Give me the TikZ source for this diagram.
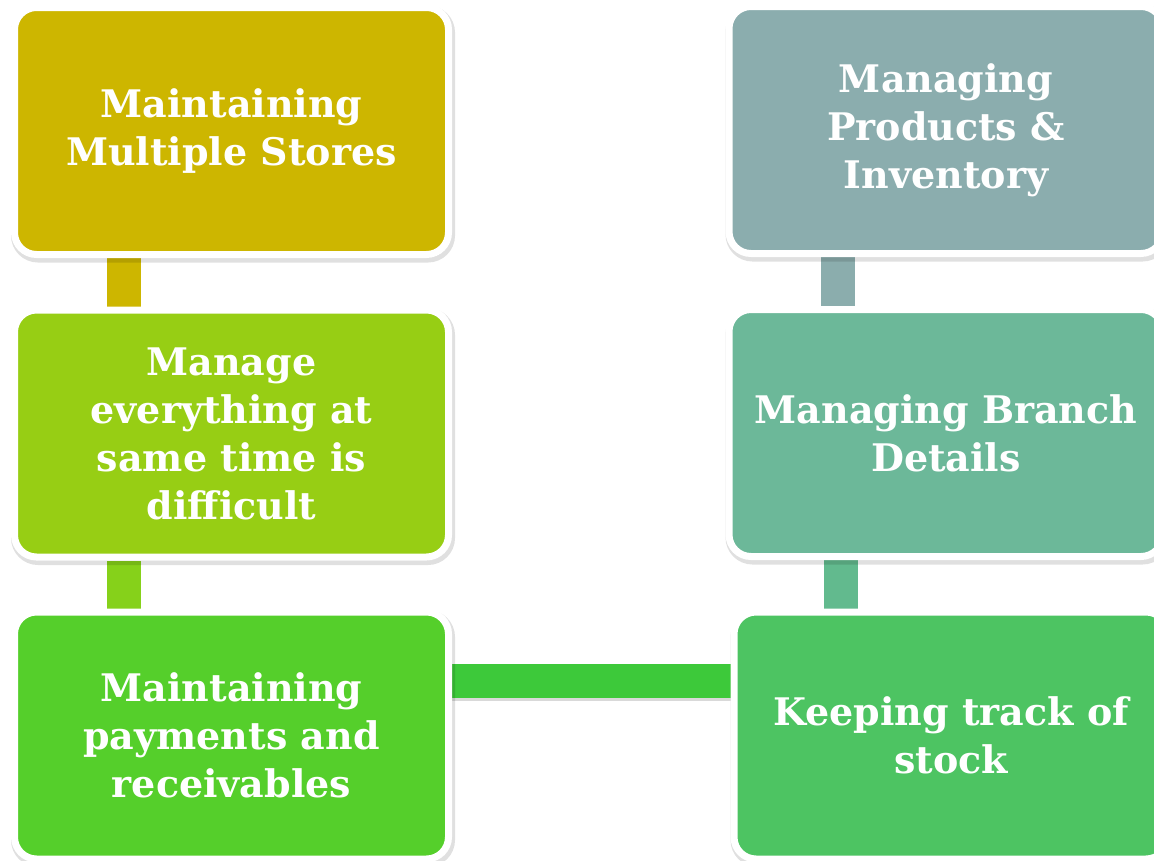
\documentclass[tikz,border=0pt]{standalone}
\usepackage{fontspec}
\setmainfont{DejaVu Serif}
\usetikzlibrary{calc,shadows}
\definecolor{cA}{HTML}{CDB600}
\definecolor{cB}{HTML}{97CE14}
\definecolor{cC}{HTML}{55CF2B}
\definecolor{cD}{HTML}{4DC462}
\definecolor{cE}{HTML}{6CB899}
\definecolor{cF}{HTML}{8BADAE}
\definecolor{lA}{HTML}{CDB600}
\definecolor{lB}{HTML}{86D11A}
\definecolor{lC}{HTML}{3DC93A}
\definecolor{lD}{HTML}{62BA8E}
\definecolor{lE}{HTML}{8BADAD}
\pgfdeclarelayer{bgl}
\pgfdeclarelayer{links}
\pgfsetlayers{bgl,links,main}
\begin{document}
\begin{tikzpicture}[x=1pt,y=-1pt,
  box/.style={rounded corners=22pt, draw=white, line width=7pt,
    minimum width=434pt, minimum height=247pt, align=center, text=white,
    font=\fontsize{38}{48}\selectfont\bfseries, inner sep=0pt,
    drop shadow={opacity=0.12, shadow xshift=1.5pt, shadow yshift=-3pt,
      draw=black, fill=black, line width=10pt}},
  link/.style={line width=34pt},
  linkshadow/.style={line width=34pt, black, opacity=0.15}]
\begin{pgfonlayer}{bgl}
\fill[white] (0,0) rectangle (1154,860);
\end{pgfonlayer}
\useasboundingbox (0,0) rectangle (1154,860);
\node[box, fill=cA] (b1) at (231.5,131) {Maintaining\\Multiple Stores};
\node[box, fill=cB] (b2) at (231.5,433.5) {Manage\\everything at\\same time is\\difficult};
\node[box, fill=cC] (b3) at (231.5,735.5) {Maintaining\\payments and\\receivables};
\node[box, fill=cF] (b6) at (946,130) {Managing\\Products \&\\Inventory};
\node[box, fill=cE] (b5) at (946,433) {Managing Branch\\Details};
\node[box, fill=cD] (b4) at (951,735.5) {Keeping track of\\stock};
\begin{pgfonlayer}{links}
\draw[linkshadow] ($(b3.east)+(0,-52)$) -- ($(b4.west)+(0,-52)$);
\draw[link, lA] ($(b1.south)+(-108,0)$) -- ($(b2.north)+(-108,0)$);
\draw[link, lB] ($(b2.south)+(-108,0)$) -- ($(b3.north)+(-108,0)$);
\draw[link, lC] ($(b3.east)+(0,-55)$) -- ($(b4.west)+(0,-55)$);
\draw[link, lE] ($(b6.south)+(-108,0)$) -- ($(b5.north)+(-108,0)$);
\draw[link, lD] ($(b5.south)+(-105,0)$) -- ($(b4.north)+(-110,0)$);
\end{pgfonlayer}
\end{tikzpicture}
\end{document}
